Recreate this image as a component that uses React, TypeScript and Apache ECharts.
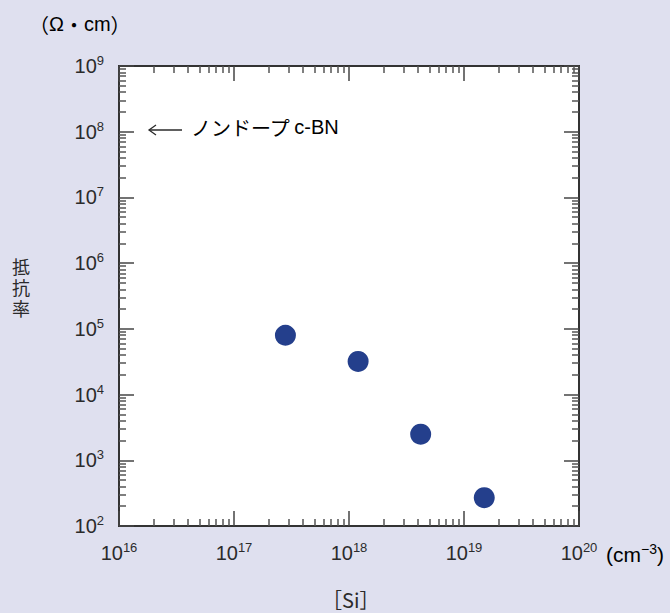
import React, { useEffect, useRef } from 'react';
import * as echarts from 'echarts';

const siConcentration = [2.8e17, 1.2e18, 4.2e18, 1.5e19];
const resistivity = [8.0e4, 3.2e4, 2.5e3, 2.7e2];
const xDecades = [16, 17, 18, 19, 20];
const yDecades = [2, 3, 4, 5, 6, 7, 8, 9];
const yTitle = ['抵', '抗', '率'];
const xTitle = '［Si］';
const annotationJp = 'ノンドープ';
const annotationEn = 'c-BN';

const NARROW = '"Liberation Sans Narrow", "Liberation Sans", Arial, sans-serif';
const SANS = '"Liberation Sans", Arial, sans-serif';
const JP = '"Noto Sans CJK JP", "Liberation Sans", sans-serif';
const TXT = '#2b2b2b';
const BG = '#dfe0ef';
const G = { left: 119, top: 66, width: 460, height: 460 };

const minorOf = (decs: number[]) => {
  const out: number[] = [];
  for (let i = 0; i < decs.length - 1; i++) {
    for (let k = 2; k <= 9; k++) out.push(decs[i] + Math.log10(k));
  }
  return out;
};

const rich = {
  b: { fontSize: 20, color: TXT, fontFamily: NARROW, lineHeight: 24 },
  s: { fontSize: 13, color: TXT, fontFamily: NARROW, lineHeight: 12, verticalAlign: 'top' as const },
};
const powLabel = (v: number) => `{b|10}{s|${Math.round(v)}}`;

export default function App() {
  const ref = useRef<HTMLDivElement>(null);
  useEffect(() => {
    if (!ref.current) return;
    const chart = echarts.init(ref.current, null, { renderer: 'svg' });
    const xMin = xDecades[0], xMax = xDecades[xDecades.length - 1];
    const yMin = yDecades[0], yMax = yDecades[yDecades.length - 1];
    const lineStyle = { color: '#333', width: 2 };
    const majorTick = { show: true, inside: true, length: 15, lineStyle: { color: '#444', width: 1.5 } };
    const minorTick = (vals: number[]) => ({ show: true, inside: true, length: 7, customValues: vals, lineStyle: { color: '#555', width: 1.5 } });
    const xMinor = minorOf(xDecades);
    const yMinor = minorOf(yDecades);
    const valX = (pos: string, grid: number, extra: any) => ({
      type: 'value', gridIndex: grid, position: pos, min: xMin, max: xMax, interval: 1,
      splitLine: { show: false }, axisLine: { show: true, onZero: false, lineStyle }, ...extra,
    });
    const valY = (pos: string, grid: number, extra: any) => ({
      type: 'value', gridIndex: grid, position: pos, min: yMin, max: yMax, interval: 1,
      splitLine: { show: false }, axisLine: { show: true, onZero: false, lineStyle }, ...extra,
    });
    chart.setOption({
      animation: false,
      backgroundColor: BG,
      grid: [
        { ...G, show: true, backgroundColor: '#fff', borderWidth: 0 },
        { ...G },
        { ...G },
      ],
      xAxis: [
        { type: 'log', gridIndex: 0, min: Math.pow(10, xMin), max: Math.pow(10, xMax), show: false },
        valX('bottom', 1, { axisTick: majorTick, axisLabel: { show: true, margin: 15, formatter: powLabel, rich } }),
        valX('top', 1, { axisTick: majorTick, axisLabel: { show: false } }),
        valX('bottom', 2, { axisTick: minorTick(xMinor), axisLabel: { show: false } }),
        valX('top', 2, { axisTick: minorTick(xMinor), axisLabel: { show: false } }),
      ],
      yAxis: [
        { type: 'log', gridIndex: 0, min: Math.pow(10, yMin), max: Math.pow(10, yMax), show: false },
        valY('left', 1, { axisTick: majorTick, axisLabel: { show: true, margin: 15, formatter: powLabel, rich } }),
        valY('right', 1, { axisTick: majorTick, axisLabel: { show: false } }),
        valY('left', 2, { axisTick: minorTick(yMinor), axisLabel: { show: false } }),
        valY('right', 2, { axisTick: minorTick(yMinor), axisLabel: { show: false } }),
      ],
      series: [
        {
          type: 'scatter', xAxisIndex: 0, yAxisIndex: 0,
          data: siConcentration.map((x, i) => [x, resistivity[i]]),
          symbol: 'circle', symbolSize: 21,
          itemStyle: { color: '#243f8c', opacity: 1 },
          z: 10,
        },
      ],
      graphic: [
        {
          type: 'text', left: 29, top: 14,
          style: {
            text: '{p|（}{a|Ω}{j|・}{a|cm}{p|）}',
            rich: {
              p: { fontSize: 20, fontFamily: JP, color: TXT },
              j: { fontSize: 20, fontFamily: JP, color: TXT },
              a: { fontSize: 20, fontFamily: SANS, color: TXT },
            },
          },
        },
        ...yTitle.map((c, i) => ({ type: 'text', left: 12, top: 256 + i * 21, style: { text: c, font: `18px ${JP}`, fill: TXT, lineHeight: 20 } })),
        { type: 'text', left: 322, top: 589, style: { text: xTitle, font: `20px ${JP}`, fill: TXT } },
        {
          type: 'text', left: 606, top: 542,
          style: {
            text: '{a|(cm}{s|−3}{a|)}',
            rich: {
              a: { fontSize: 21, fontFamily: SANS, color: TXT, lineHeight: 24 },
              s: { fontSize: 14, fontFamily: SANS, color: TXT, lineHeight: 12, verticalAlign: 'top' },
            },
          },
        },
        { type: 'line', shape: { x1: 149, y1: 130, x2: 182, y2: 130 }, style: { stroke: TXT, lineWidth: 1.3 } },
        { type: 'polyline', shape: { points: [[156, 125], [149, 130], [156, 135]] }, style: { stroke: TXT, lineWidth: 1.3, fill: 'none' } },
        {
          type: 'text', left: 191, top: 117,
          style: {
            text: `{j|${annotationJp}} {l|${annotationEn}}`,
            rich: {
              j: { fontSize: 20, fontFamily: JP, color: TXT, lineHeight: 26 },
              l: { fontSize: 20, fontFamily: SANS, color: TXT, lineHeight: 26 },
            },
          },
        },
      ],
    });
    return () => chart.dispose();
  }, []);
  return <div ref={ref} style={{ position: 'fixed', left: 0, top: 0, width: 670, height: 613 }} />;
}
